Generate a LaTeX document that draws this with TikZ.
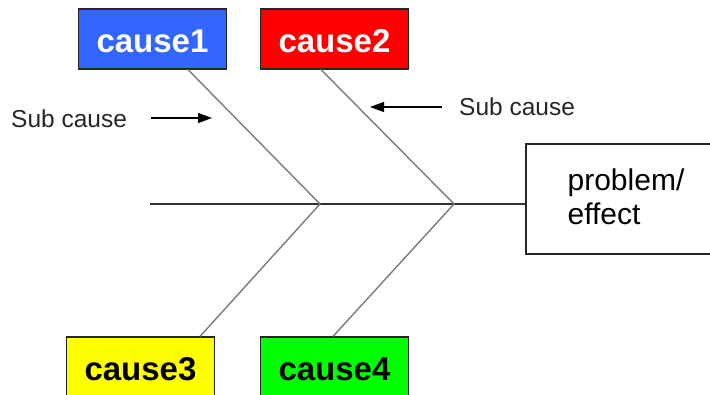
\documentclass[tikz,border=0pt]{standalone}
\usepackage{fontspec}
\setmainfont{Liberation Sans}[Ligatures=NoCommon]
\usetikzlibrary{arrows.meta}
\definecolor{cblue}{RGB}{51,102,255}
\definecolor{cred}{RGB}{255,0,0}
\definecolor{cyellow}{RGB}{255,255,0}
\definecolor{cgreen}{RGB}{0,255,0}
\begin{document}
\begin{tikzpicture}[x=1pt,y=-1pt,
  causebox/.style={draw=black!85, line width=1.2pt, minimum width=148pt, minimum height=60pt,
    inner sep=0pt, text height=26pt, text depth=0pt, font=\fontsize{33}{36}\selectfont\bfseries},
  bone/.style={draw=black!52, line width=1.4pt},
  spine/.style={draw=black!80, line width=1.6pt},
  subarrow/.style={draw=black, line width=1.2pt, -{Triangle[length=14pt,width=10pt]}},
  subtext/.style={anchor=base west, inner sep=0pt, font=\fontsize{24.5}{28}\selectfont, text=black!85},
  effectbox/.style={draw=black!85, line width=1.2pt, fill=white, minimum width=200pt, minimum height=110pt,
    align=left, inner sep=0pt, text depth=4pt, font=\fontsize{30}{34}\selectfont}
]
\clip (0,0) rectangle (710,394);
\coordinate (tail) at (150,204);
\coordinate (j1) at (320,204);
\coordinate (j2) at (454,204);
\node[effectbox] (problem) at (626,199) {problem/\\effect};
\draw[spine] (tail) -- (tail -| problem.west);
\node[causebox, fill=cblue, text=white] (cause1) at (152.5,39) {cause1};
\node[causebox, fill=cred, text=white] (cause2) at (334.5,39) {cause2};
\node[causebox, fill=cyellow, text=black] (cause3) at (140.5,367) {cause3};
\node[causebox, fill=cgreen, text=black] (cause4) at (334.5,367) {cause4};
\draw[bone] ([xshift=35.5pt]cause1.south) -- (j1);
\draw[bone] ([xshift=-13.5pt]cause2.south) -- (j2);
\draw[bone] ([xshift=59.5pt]cause3.north) -- (j1);
\draw[bone] ([xshift=-1.5pt]cause4.north) -- (j2);
\node[subtext] (sub1) at (11,127) {Sub cause};
\node[subtext] (sub2) at (459,115) {Sub cause};
\coordinate (a1s) at (151,118);
\coordinate (a1e) at (212,118);
\coordinate (a2s) at (442,107);
\coordinate (a2e) at (370,107);
\draw[subarrow] (a1s) -- (a1e);
\draw[subarrow] (a2s) -- (a2e);
\end{tikzpicture}
\end{document}
